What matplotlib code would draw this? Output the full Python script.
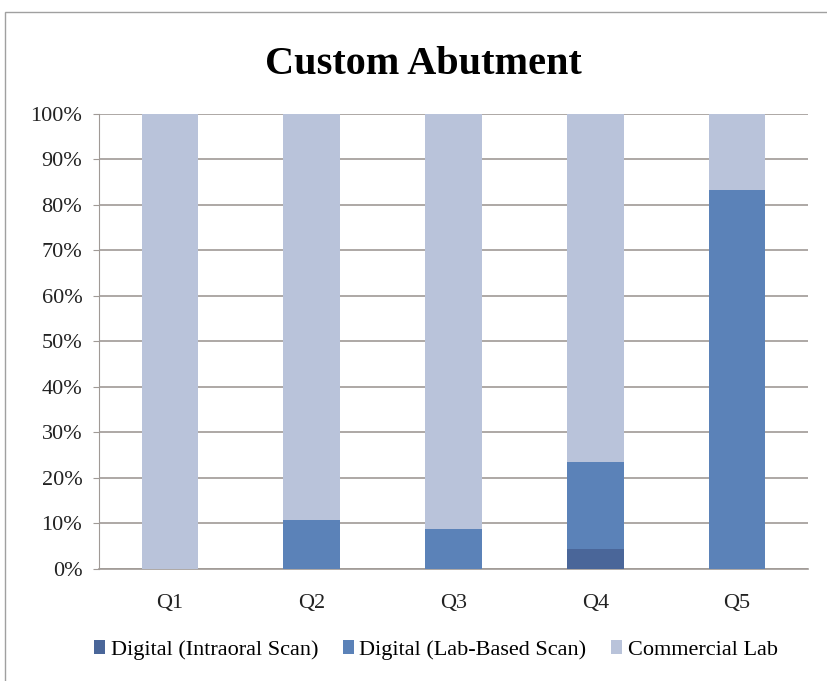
import matplotlib.pyplot as plt
from matplotlib.patches import Rectangle
from matplotlib.ticker import PercentFormatter
import numpy as np

# data (percent of responses)
quarters = ["Q1", "Q2", "Q3", "Q4", "Q5"]
intraoral = [0.0, 0.0, 0.0, 4.5, 0.0]
lab_based = [0.0, 10.8, 8.8, 19.0, 83.3]
commercial = [100.0, 89.2, 91.2, 76.5, 16.7]

series_names = ["Digital (Intraoral Scan)", "Digital (Lab-Based Scan)", "Commercial Lab"]
colors = ["#4A6699", "#5B82B8", "#B9C3DA"]

plt.rcParams['font.family'] = ['Liberation Serif', 'DejaVu Serif']

fig = plt.figure(figsize=(8.27, 6.81), dpi=100)
ax = fig.add_axes([0.1197, 0.1645, 0.8573, 0.6681])

# chart border
fig.patches.append(Rectangle((5 / 827, -0.01), 1.0, 1 - 12 / 681 + 0.01,
                             transform=fig.transFigure, fill=False,
                             edgecolor="#a0a0a0", linewidth=1.0))

x = np.arange(len(quarters))
bottom = np.zeros(len(quarters))
for vals, name, c in zip([intraoral, lab_based, commercial], series_names, colors):
    ax.bar(x, vals, width=0.4, bottom=bottom, color=c, label=name, zorder=3)
    bottom += np.array(vals)

ax.set_xlim(-0.5, 4.5)
ax.set_ylim(0, 100)
ax.set_yticks(np.arange(0, 101, 10))
ax.yaxis.set_major_formatter(PercentFormatter(decimals=0))
ax.set_xticks(x)
ax.set_xticklabels(quarters)
ax.tick_params(axis='both', labelsize=16, colors="#222222")
ax.tick_params(axis='x', length=0, pad=18)
ax.tick_params(axis='y', length=4, color="#a09a96", pad=8)
ax.yaxis.grid(True, color="#a09a96", linewidth=1.2, zorder=0)
for s in ["top", "right"]:
    ax.spines[s].set_visible(False)
ax.spines["left"].set_color("#a09a96")
ax.spines["bottom"].set_color("#a09a96")
ax.spines["bottom"].set_linewidth(1.2)

fig.text(0.512, 0.906, "Custom Abutment", ha="center", va="center",
         fontsize=29, fontweight="bold")

fig.legend(loc="center", bbox_to_anchor=(0.527, 0.046), ncol=3, frameon=False,
           fontsize=16, handlelength=0.5, handleheight=0.6, handletextpad=0.25,
           columnspacing=1.1)

fig.savefig("out.png", dpi=100)
